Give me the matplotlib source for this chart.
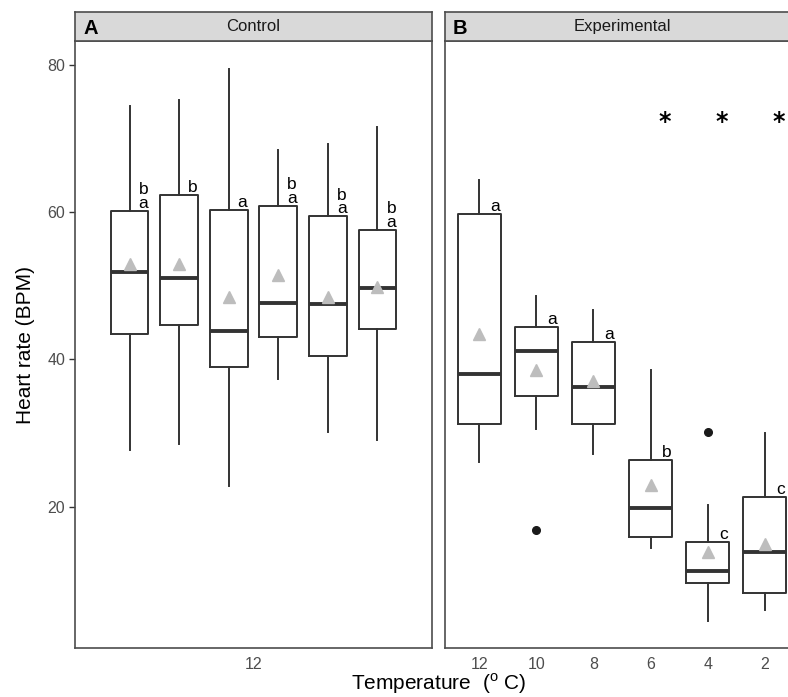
import numpy as np
import matplotlib
matplotlib.use("Agg")
import matplotlib.pyplot as plt

plt.rcParams['font.family'] = ['Liberation Sans', 'DejaVu Sans']
plt.rcParams['mathtext.fontset'] = 'custom'
plt.rcParams['mathtext.rm'] = 'Liberation Sans'

# Control panel: six groups, all at 12 C
ctrl_whislo = [27.7, 28.5, 22.8, 37.4, 30.2, 29.0]
ctrl_q1 = [43.5, 44.6, 38.9, 43.1, 40.5, 44.1]
ctrl_med = [51.9, 51.1, 43.8, 47.7, 47.5, 49.7]
ctrl_q3 = [60.1, 62.3, 60.3, 60.8, 59.4, 57.6]
ctrl_whishi = [74.4, 75.2, 79.4, 68.4, 69.2, 71.5]
ctrl_mean = [52.9, 52.9, 48.4, 51.4, 48.5, 49.8]
ctrl_letters = ["ba", "b", "a", "ba", "ba", "ba"]

# Experimental panel
temps = ["12", "10", "8", "6", "4", "2"]
exp_whislo = [26.1, 30.5, 27.2, 14.4, 4.5, 6.0]
exp_q1 = [31.3, 35.1, 31.2, 15.9, 9.6, 8.3]
exp_med = [38.0, 41.2, 36.2, 19.9, 11.3, 13.9]
exp_q3 = [59.7, 44.4, 42.4, 26.4, 15.2, 21.3]
exp_whishi = [64.4, 48.6, 46.7, 38.6, 20.2, 30.0]
exp_mean = [43.4, 38.5, 37.1, 23.0, 13.8, 14.9]
exp_fliers = [[], [16.9], [], [], [30.1], []]
exp_letters = ["a", "a", "a", "b", "c", "c"]
exp_star = [False, False, False, True, True, True]
star_y = 72.2

box_col = '#333333'
border_col = '#4D4D4D'
tick_col = '#4D4D4D'


def make_stats(lo, q1, med, q3, hi, fl=None):
    out = []
    for i in range(len(lo)):
        out.append(dict(whislo=lo[i], q1=q1[i], med=med[i], q3=q3[i], whishi=hi[i],
                        fliers=(fl[i] if fl else [])))
    return out


def draw_panel(ax, stats, pos, means, letters):
    ax.bxp(stats, positions=pos, widths=0.76, showcaps=False, showfliers=True,
           boxprops=dict(color=box_col, linewidth=1.4),
           whiskerprops=dict(color=box_col, linewidth=1.4),
           medianprops=dict(color=box_col, linewidth=2.8, solid_capstyle='butt'),
           flierprops=dict(marker='o', markersize=5.5, markerfacecolor='#1A1A1A',
                           markeredgecolor='#1A1A1A'))
    ax.plot(pos, means, linestyle='none', marker='^', markersize=9,
            color='#BDBDBD', zorder=4)
    for i, p in enumerate(pos):
        # letters stacked from the box top upwards
        for j, ch in enumerate(letters[i][::-1]):
            ax.annotate(ch, (p + 0.28, stats[i]['q3']), xytext=(0, 10 * j),
                        textcoords='offset points', ha='center', va='bottom',
                        fontsize=12.5, color='black')
    ax.set_ylim(0.8, 83.2)
    ax.set_yticks([20, 40, 60, 80])
    for s in ax.spines.values():
        s.set_color(border_col)
        s.set_linewidth(1.2)
    ax.tick_params(axis='x', length=0, pad=6, labelsize=11.5, colors=tick_col)
    ax.tick_params(axis='y', length=4, width=1.0, pad=3, labelsize=11.5,
                   colors=tick_col, color='#333333')


fig = plt.figure(figsize=(7.88, 6.97), dpi=100)
H = 697.0
W = 788.0
ptop, pbot = 41.0, 648.3

axA = fig.add_axes([75 / W, 1 - pbot / H, 357 / W, (pbot - ptop) / H])
posA = list(np.arange(1, 7))
draw_panel(axA, make_stats(ctrl_whislo, ctrl_q1, ctrl_med, ctrl_q3, ctrl_whishi),
           posA, ctrl_mean, ctrl_letters)
axA.set_xlim(-0.1, 7.1)
axA.set_xticks([3.5])
axA.set_xticklabels(["12"])

axB = fig.add_axes([445 / W, 1 - pbot / H, 354 / W, (pbot - ptop) / H])
posB = list(np.arange(1, 7))
draw_panel(axB, make_stats(exp_whislo, exp_q1, exp_med, exp_q3, exp_whishi, exp_fliers),
           posB, exp_mean, exp_letters)
axB.set_xlim(0.4, 6.6)
axB.set_xticks(posB)
axB.set_xticklabels(temps)
axB.tick_params(axis='y', length=0, labelleft=False)
for p, s in zip(posB, exp_star):
    if s:
        axB.text(p + 0.25, star_y, "*", ha='center', va='center', fontsize=17,
                 fontweight='bold', family='DejaVu Sans')

# strips
for left, width, title, tag in [(75, 357, "Control", "A"), (445, 354, "Experimental", "B")]:
    st = fig.add_axes([left / W, 1 - ptop / H, width / W, 28.7 / H])
    st.set_facecolor('#D9D9D9')
    st.set_xticks([])
    st.set_yticks([])
    for s in st.spines.values():
        s.set_color(border_col)
        s.set_linewidth(1.2)
    st.text(0.5, 0.5, title, ha='center', va='center', fontsize=12,
            color='#1A1A1A', transform=st.transAxes)
    st.text(8 / width, 0.45, tag, ha='left', va='center', fontsize=14.5,
            fontweight='bold', color='black', transform=st.transAxes)

fig.text(26 / W, 1 - 345 / H, "Heart rate (BPM)", rotation=90, ha='center',
         va='center', fontsize=15)
fig.text(439 / W, 1 - 684 / H, r"Temperature  ($^{\mathrm{o}}$ C)", ha='center',
         va='center', fontsize=15)

fig.savefig("out.png", dpi=100)
